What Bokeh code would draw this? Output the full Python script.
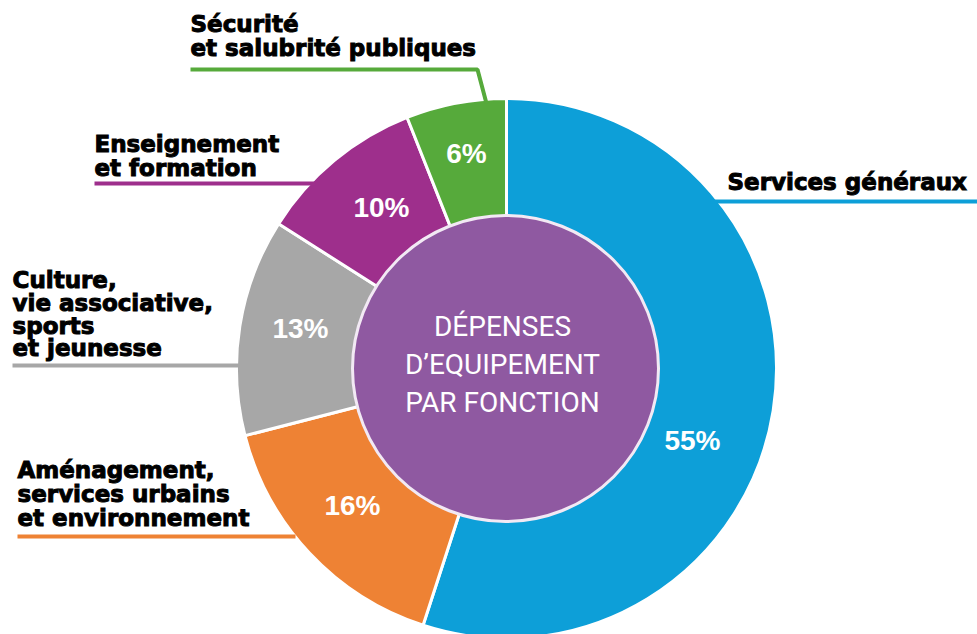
import numpy as np
from bokeh.plotting import figure
from bokeh.models import Range1d, Text
from bokeh.core.properties import value
from bokeh.embed import file_html
from bokeh.resources import INLINE

# ---- data ----
categories = ["Services généraux", "Aménagement, services urbains et environnement",
              "Culture, vie associative, sports et jeunesse", "Enseignement et formation",
              "Sécurité et salubrité publiques"]
shares = [55, 16, 13, 10, 6]
pct_labels = ["55%", "16%", "13%", "10%", "6%"]
colors = ["#0d9fd8", "#ee8234", "#a7a7a7", "#9e2f8c", "#56aa3b"]
center_lines = ["DÉPENSES", "D\u2019EQUIPEMENT", "PAR FONCTION"]
label_lines = [["Services généraux"],
               ["Aménagement,", "services urbains", "et environnement"],
               ["Culture,", "vie associative,", "sports", "et jeunesse"],
               ["Enseignement", "et formation"],
               ["Sécurité", "et salubrité publiques"]]

W, H = 977, 634
def Y(py):
    return H - py

cx, cy = 506, Y(368)
r_out, r_in = 270, 153

p = figure(width=W, height=H, output_backend="svg", toolbar_location=None,
           x_range=Range1d(0, W), y_range=Range1d(0, H),
           x_axis_location=None, y_axis_location=None,
           min_border=0, min_border_left=0, min_border_right=0,
           min_border_top=0, min_border_bottom=0)
p.grid.visible = False
p.outline_line_color = None
p.background_fill_color = "white"

# wedges: start at 12 o'clock, clockwise
fr = np.array(shares) / sum(shares)
cum = np.concatenate([[0], np.cumsum(fr)])
starts = np.pi / 2 - 2 * np.pi * cum[1:]
ends = np.pi / 2 - 2 * np.pi * cum[:-1]
p.annular_wedge(x=cx, y=cy, inner_radius=r_in - 5, outer_radius=r_out,
                start_angle=starts, end_angle=ends, fill_color=colors,
                line_color="white", line_width=3)

# center circle
p.circle(x=cx - 1, y=cy, radius=r_in, fill_color="#8f59a1",
         line_color="#f2e9f4", line_width=3)

# center text
for i, t in enumerate(center_lines):
    p.text(x=[cx - 4], y=[Y(326 + 38 * i)], text=[t], text_align="center",
           text_baseline="middle", text_color="white", text_font_size="28px",
           text_font=value("Roboto"))

# percent labels
pct_pos = [(692, 440), (352, 505), (300, 328), (381, 207), (466, 153)]
for (px, py), t in zip(pct_pos, pct_labels):
    p.text(x=[px], y=[Y(py)], text=[t], text_align="center", text_baseline="middle",
           text_color="white", text_font_size="28px", text_font_style="bold",
           text_font=value("Liberation Sans"))

# category labels (heavy black)
has_outline = "text_outline_color" in Text.properties()
lab_pos = [(727, [181]), (17, [469, 493, 517]), (12, [279, 302, 325, 347]),
           (94, [143, 167]), (190, [23, 47])]
for (lx, ys), lines in zip(lab_pos, label_lines):
    for yy, t in zip(ys, lines):
        kw = dict(text_outline_color="black") if has_outline else {}
        p.text(x=[lx], y=[Y(yy)], text=[t], text_align="left", text_baseline="middle",
               text_color="black", text_font_size="23px", text_font_style="bold",
               text_font=value("DejaVu Sans"), **kw)

# leader lines
leaders = [([710, 977], [201, 201]),
           ([17, 295], [536, 536]),
           ([12, 240], [365, 365]),
           ([94, 315], [183, 183]),
           ([190, 477, 486], [69, 69, 103])]
for (xs, ys), c in zip(leaders, colors):
    p.line(x=xs, y=[Y(v) for v in ys], line_color=c, line_width=4)

open("out.html", "w").write(file_html(p, INLINE))
